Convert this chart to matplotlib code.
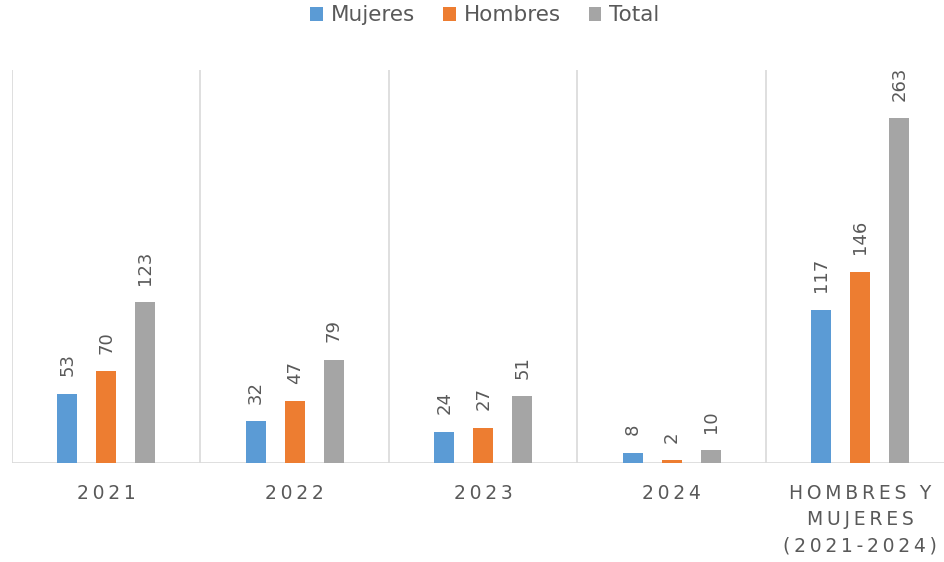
import matplotlib
matplotlib.use("Agg")
import matplotlib.pyplot as plt
import numpy as np

T = "\u2009"
def spaced(s):
    return T.join(s)

categories = ["2021", "2022", "2023", "2024",
              "HOMBRES Y\nMUJERES\n(2021-2024)"]
series_names = ["Mujeres", "Hombres", "Total"]
mujeres = [53, 32, 24, 8, 117]
hombres = [70, 47, 27, 2, 146]
total = [123, 79, 51, 10, 263]
colors = ["#5B9BD5", "#ED7D31", "#A5A5A5"]

plt.rcParams['font.family'] = ['DejaVu Sans']
fig = plt.figure(figsize=(9.45, 5.62), dpi=100)
ax = fig.add_axes([12/945, 99/562, 1 - 12/945, 393/562])

x = np.arange(len(categories))
width = 0.106
offset = 0.207
text_color = "#595959"
for i, (vals, name, c) in enumerate(zip([mujeres, hombres, total], series_names, colors)):
    pos = x + (i - 1) * offset
    ax.bar(pos, vals, width, color=c, label=name, zorder=3)
    for p, v in zip(pos, vals):
        ax.annotate(str(v), (p, v), xytext=(0, 12.5), textcoords="offset points",
                    rotation=90, ha="center", va="bottom", fontsize=13,
                    color=text_color)

ax.set_ylim(0, 300)
ax.set_xlim(-0.5, 4.45)
for s in ax.spines.values():
    s.set_visible(False)
ax.axhline(0, color="#D9D9D9", lw=1.2, zorder=2)
for b in np.arange(-0.5, 4.0, 1.0):
    ax.axvline(b, color="#D9D9D9", lw=1.2, zorder=1)
ax.set_yticks([])
ax.set_xticks(x)
labels = ["\n".join(spaced(line) for line in c.split("\n")) for c in categories]
ax.set_xticklabels(labels, fontsize=13.5, color=text_color, linespacing=1.5)
ax.tick_params(axis="x", length=0, pad=15)

leg = fig.legend(loc="upper center", bbox_to_anchor=(0.513, 1.025), ncol=3, frameon=False,
                 fontsize=15.5, handlelength=0.6, handleheight=0.6, handletextpad=0.35,
                 columnspacing=1.3)
for t in leg.get_texts():
    t.set_color(text_color)

fig.savefig("out.png", dpi=100)
